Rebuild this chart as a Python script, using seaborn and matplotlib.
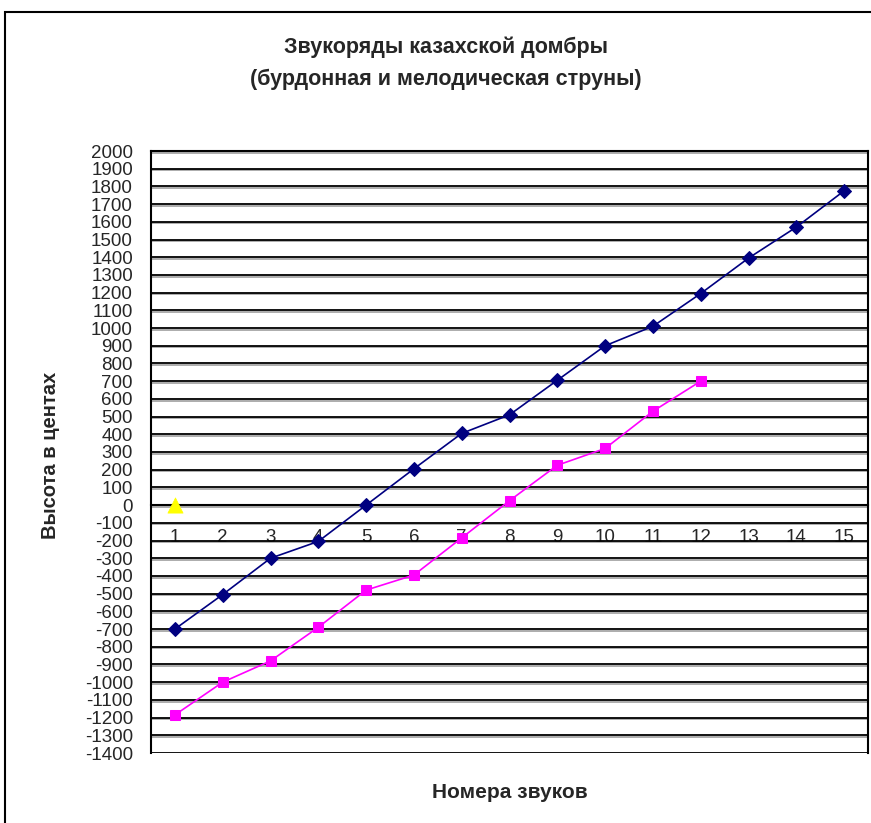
import matplotlib
matplotlib.use("Agg")
import matplotlib.pyplot as plt
import matplotlib.patheffects as pe
from matplotlib.patches import Rectangle
import numpy as np
import pandas as pd
import seaborn as sns

# Sound numbers along the neck
burdon_nums = list(range(1, 16))
melody_nums = list(range(1, 13))

# Pitch in cents for each string
burdon_cents = [-700, -505, -300, -205, 0, 205, 405, 510, 705, 900, 1010, 1195, 1395, 1570, 1775]
melody_cents = [-1185, -1000, -880, -690, -480, -395, -185, 25, 225, 320, 530, 700]

# Reference tone
ref_nums = [1]
ref_cents = [0]

x_labels = [str(i) for i in range(1, 16)]
y_ticks = list(range(-1400, 2001, 100))

title_text = "Звукоряды казахской домбры\n(бурдонная и мелодическая струны)"
x_title = "Номера звуков"
y_title = "Высота в центах"

sns.set_style("white")
plt.rcParams["font.family"] = ["Liberation Sans", "DejaVu Sans"]

W, H = 871, 823
fig = plt.figure(figsize=(W / 100, H / 100), dpi=100)
fig.patch.set_facecolor("white")

# Outer chart frame
fig.patches.append(Rectangle((5 / W, -0.05), 1.2, 1 - 12 / H + 0.05,
                             transform=fig.transFigure, fill=False,
                             edgecolor="black", linewidth=1.5, zorder=0))

left, right, top, bottom = 151, 868, 151, 753
ax = fig.add_axes([left / W, 1 - bottom / H, (right - left) / W, (bottom - top) / H])
ax.set_facecolor("white")

burdon = pd.DataFrame({"num": burdon_nums, "cents": burdon_cents})
melody = pd.DataFrame({"num": melody_nums, "cents": melody_cents})
ref = pd.DataFrame({"num": ref_nums, "cents": ref_cents})

sns.lineplot(data=burdon, x="num", y="cents", ax=ax, color="#000080",
             marker="D", markersize=7.5, markeredgecolor="#000080",
             linewidth=1.2, zorder=5)
sns.lineplot(data=melody, x="num", y="cents", ax=ax, color="#FF00FF",
             marker="s", markersize=7.5, markeredgecolor="#FF00FF",
             linewidth=1.2, zorder=5)
sns.scatterplot(data=ref, x="num", y="cents", ax=ax, color="#FFFF00",
                marker="^", s=120, edgecolor="#FFFF00", linewidth=0.5, zorder=6)

ax.set_xlim(0.5, 15.5)
ax.set_ylim(-1400, 2000)

# Horizontal gridlines with a soft shadow
ax.set_yticks(y_ticks)
ax.set_yticklabels([str(v) for v in y_ticks], fontsize=13.5)
shadow = [pe.SimpleLineShadow(offset=(0, -1.2), shadow_color="gray", alpha=0.7), pe.Normal()]
for v in y_ticks:
    ax.axhline(v, color="black", linewidth=1.3, zorder=1, path_effects=shadow)
ax.tick_params(axis="y", direction="out", length=6, width=1.2, color="black", pad=7)

# Category axis crossing at zero: tick marks on boundaries, labels at centers
ax.spines["bottom"].set_position(("data", 0))
ax.set_xticks(np.arange(1.5, 15.5, 1.0))
ax.set_xticks(burdon_nums, minor=True)
ax.set_xticklabels([])
ax.set_xticklabels(x_labels, minor=True, fontsize=13.5)
ax.tick_params(axis="x", which="major", direction="out", length=5, width=1.2, color="black")
ax.tick_params(axis="x", which="minor", length=0, pad=17)

for side in ["left", "right", "top", "bottom"]:
    ax.spines[side].set_visible(True)
    ax.spines[side].set_color("black")
    ax.spines[side].set_linewidth(1.5)

ax.set_xlabel("")
ax.set_ylabel("")

fig.text(0.512, 1 - 63 / H, title_text, ha="center", va="center",
         fontsize=15.5, fontweight="bold", linespacing=1.65)
fig.text(510 / W, 1 - 792 / H, x_title, ha="center", va="center",
         fontsize=15, fontweight="bold")
fig.text(50 / W, 1 - 455 / H, y_title, ha="center", va="center",
         fontsize=14.5, fontweight="bold", rotation=90)

fig.savefig("out.png", dpi=100, facecolor="white")
